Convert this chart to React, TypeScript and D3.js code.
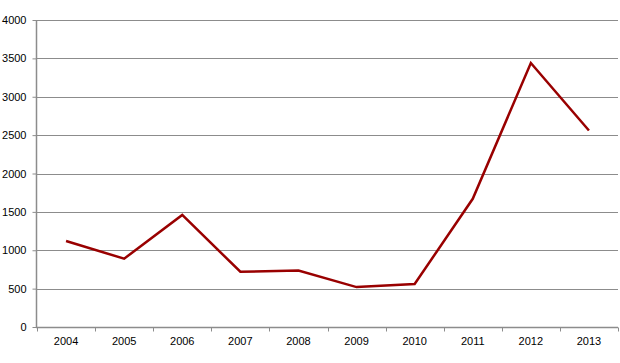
import React, { useRef, useEffect } from "react";
import { select, scaleLinear, scaleBand, line, axisLeft, axisBottom } from "d3";

const years = ["2004", "2005", "2006", "2007", "2008", "2009", "2010", "2011", "2012", "2013"];
const values = [1120, 890, 1460, 720, 735, 520, 560, 1670, 3440, 2560];
const yTicks = [0, 500, 1000, 1500, 2000, 2500, 3000, 3500, 4000];

const W = 620;
const H = 363;
const left = 36;
const right = 618;
const top = 20;
const bottom = 327;

function App() {
  const svgRef = useRef<SVGSVGElement>(null);

  useEffect(() => {
    const svg = select(svgRef.current);
    svg.selectAll("*").remove();

    const x = scaleBand<string>().domain(years).range([left + 1, right]);
    const y = scaleLinear().domain([0, 4000]).range([bottom, top]);

    // gridlines
    svg
      .append("g")
      .selectAll("line")
      .data(yTicks.slice(1))
      .join("line")
      .attr("x1", left)
      .attr("x2", right)
      .attr("y1", (d) => Math.round(y(d)) + 0.5)
      .attr("y2", (d) => Math.round(y(d)) + 0.5)
      .attr("stroke", "#8c8c8c")
      .attr("stroke-width", 1.2);

    const yAxis = axisLeft(y)
      .tickValues(yTicks)
      .tickFormat((d) => String(d))
      .tickSize(4)
      .tickPadding(6);
    const gy = svg
      .append("g")
      .attr("transform", `translate(${left + 0.5},0)`)
      .call(yAxis);

    const xAxis = axisBottom(x).tickSize(0).tickPadding(10);
    const gx = svg
      .append("g")
      .attr("transform", `translate(0,${bottom + 0.5})`)
      .call(xAxis);

    // band boundary ticks
    gx.selectAll(".bound")
      .data([...years.map((d) => x(d)!), right])
      .join("line")
      .attr("class", "bound")
      .attr("x1", (d) => Math.round(d) + 0.5)
      .attr("x2", (d) => Math.round(d) + 0.5)
      .attr("y1", 0)
      .attr("y2", 4)
      .attr("stroke", "#8c8c8c");

    [gy, gx].forEach((g) => {
      g.select(".domain").attr("stroke", "#8c8c8c").attr("stroke-width", 1.5);
      g.selectAll(".tick line").attr("stroke", "#8c8c8c");
      g.selectAll("text")
        .attr("fill", "#000")
        .style("font-family", "'Liberation Sans', Arial, sans-serif")
        .style("font-size", "11px");
    });
    gx.select(".domain").attr("d", `M${left},0H${right}`);
    gy.select(".domain").attr("d", `M0,${top}V${bottom}`);

    const path = line<number>()
      .x((d, i) => x(years[i])! + x.bandwidth() / 2)
      .y((d) => y(d));

    svg
      .append("path")
      .datum(values)
      .attr("d", path)
      .attr("fill", "none")
      .attr("stroke", "#990000")
      .attr("stroke-width", 2.5)
      .attr("stroke-linejoin", "miter");
  }, []);

  return (
    <svg
      ref={svgRef}
      width={W}
      height={H}
      style={{ position: "absolute", left: 0, top: 0, background: "#fff" }}
    />
  );
}

export default App;
